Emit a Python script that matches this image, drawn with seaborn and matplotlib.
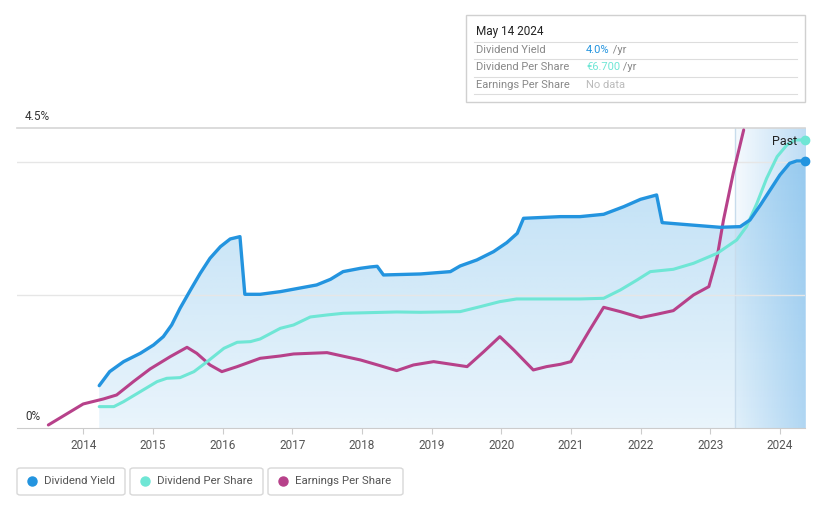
import numpy as np
import pandas as pd
import seaborn as sns
import matplotlib
import matplotlib.pyplot as plt
from matplotlib.patches import Polygon, FancyBboxPatch

matplotlib.use('Agg')

# dividend yield (%)
yield_years = [2014.23, 2014.38, 2014.58, 2014.82, 2015.01, 2015.15, 2015.27, 2015.39, 2015.54,
               2015.68, 2015.82, 2015.97, 2016.11, 2016.25, 2016.32, 2016.54, 2016.83, 2017.35,
               2017.55, 2017.73, 2017.98, 2018.12, 2018.22, 2018.31, 2018.84, 2019.27, 2019.41,
               2019.65, 2019.89, 2020.08, 2020.23, 2020.32, 2020.85, 2021.13, 2021.47, 2021.76,
               2022.0, 2022.23, 2022.31, 2022.72, 2023.14, 2023.43, 2023.57, 2023.72, 2023.86,
               2024.0, 2024.14, 2024.24, 2024.36]
yield_vals = [0.64, 0.85, 1.0, 1.125, 1.25, 1.375, 1.55, 1.80, 2.075,
              2.325, 2.55, 2.725, 2.84, 2.875, 2.01, 2.01, 2.05, 2.15,
              2.235, 2.35, 2.40, 2.42, 2.43, 2.30, 2.315, 2.35, 2.435,
              2.525, 2.65, 2.785, 2.925, 3.15, 3.175, 3.175, 3.21, 3.325,
              3.435, 3.50, 3.085, 3.05, 3.015, 3.025, 3.125, 3.35, 3.575,
              3.80, 3.975, 4.01, 4.01]

# dividend per share (scaled to chart)
dps_years = [2014.23, 2014.44, 2014.58, 2014.82, 2015.06, 2015.2, 2015.39, 2015.59, 2015.78,
             2016.02, 2016.21, 2016.4, 2016.54, 2016.83, 2017.02, 2017.26, 2017.5, 2017.73,
             2018.5, 2018.84, 2019.41, 2019.7, 2019.98, 2020.22, 2020.85, 2021.13, 2021.47,
             2021.71, 2021.95, 2022.14, 2022.47, 2022.76, 2023.1, 2023.38, 2023.52, 2023.67,
             2023.81, 2023.96, 2024.1, 2024.22, 2024.36]
dps_vals = [0.325, 0.325, 0.40, 0.55, 0.70, 0.75, 0.76, 0.85, 1.0,
            1.2, 1.29, 1.30, 1.34, 1.50, 1.55, 1.67, 1.70, 1.725,
            1.745, 1.74, 1.75, 1.825, 1.90, 1.94, 1.94, 1.94, 1.95,
            2.075, 2.225, 2.35, 2.385, 2.475, 2.625, 2.825, 3.025, 3.375,
            3.75, 4.075, 4.25, 4.325, 4.325]

# earnings per share (scaled to chart)
eps_years = [2013.5, 2014.0, 2014.29, 2014.48, 2014.72, 2014.96, 2015.25, 2015.49, 2015.63,
             2015.82, 2015.99, 2016.21, 2016.54, 2016.83, 2017.02, 2017.5, 2017.98, 2018.26,
             2018.5, 2018.74, 2019.03, 2019.51, 2019.75, 2019.98, 2020.18, 2020.46, 2020.65,
             2020.85, 2021.0, 2021.27, 2021.47, 2021.71, 2022.0, 2022.23, 2022.47, 2022.76,
             2022.98, 2023.1, 2023.19, 2023.33, 2023.48]
eps_vals = [0.05, 0.365, 0.44, 0.50, 0.70, 0.89, 1.075, 1.215, 1.125,
            0.95, 0.85, 0.925, 1.05, 1.085, 1.115, 1.135, 1.025, 0.94,
            0.865, 0.95, 1.0, 0.925, 1.15, 1.375, 1.175, 0.875, 0.925,
            0.96, 1.0, 1.475, 1.815, 1.75, 1.66, 1.71, 1.765, 2.0,
            2.125, 2.575, 3.125, 3.825, 4.475]

year_ticks = list(range(2014, 2025))
past_start = 2023.35

blue = '#2394df'
teal = '#6fe6d5'
magenta = '#b7418a'

W, H = 821, 508
fig = plt.figure(figsize=(W / 100, H / 100), dpi=100)
plt.rcParams['font.family'] = ['Roboto', 'DejaVu Sans']


def px(x, y):
    return x / W, 1 - y / H


ax = fig.add_axes([17 / W, (H - 428.3) / H, (805 - 17) / W, (428.3 - 128.3) / H])
x0, x1 = 2013.05, 2024.36
ax.set_xlim(x0, x1)
ax.set_ylim(0, 4.5)

# gradient fill under dividend yield
poly_pts = [(yield_years[0], 0)] + list(zip(yield_years, yield_vals)) + [(yield_years[-1], 0)]
clip = Polygon(poly_pts, closed=True, facecolor='none', edgecolor='none', transform=ax.transData)
ax.add_patch(clip)
grad = np.zeros((100, 2, 4))
grad[..., :3] = matplotlib.colors.to_rgb(blue)
grad[..., 3] = np.linspace(0.10, 0.30, 100)[:, None]
im = ax.imshow(grad, extent=[yield_years[0], yield_years[-1], 0, 4.2], origin='lower',
               aspect='auto', zorder=1, interpolation='bilinear')
im.set_clip_path(clip)

# past region
pg = np.zeros((2, 100, 4))
pg[..., :3] = matplotlib.colors.to_rgb('#5aa9e6')
pg[..., 3] = np.linspace(0.06, 0.40, 100)[None, :]
ax.imshow(pg, extent=[past_start, x1, 0, 4.5], origin='lower', aspect='auto', zorder=1.5,
          interpolation='bilinear')
ax.axvline(past_start, color='#c8dcec', lw=1, zorder=1.6)

# grid
for g in [2, 4]:
    ax.axhline(g, color='#e6e6e6', lw=1, zorder=1.7)
ax.axhline(4.5, color='#d5d5d5', lw=1.2, zorder=1.7, clip_on=False)

df_y = pd.DataFrame({'year': yield_years, 'val': yield_vals})
df_d = pd.DataFrame({'year': dps_years, 'val': dps_vals})
df_e = pd.DataFrame({'year': eps_years, 'val': eps_vals})
kw = dict(solid_joinstyle='round', solid_capstyle='round')
sns.lineplot(data=df_e, x='year', y='val', color=magenta, lw=2.2, ax=ax, zorder=3, **kw)
sns.lineplot(data=df_d, x='year', y='val', color=teal, lw=2.2, ax=ax, zorder=3, **kw)
sns.lineplot(data=df_y, x='year', y='val', color=blue, lw=2.4, ax=ax, zorder=4, **kw)

ax.plot([x1], [dps_vals[-1]], 'o', color=teal, ms=6, clip_on=False, zorder=5)
ax.plot([x1], [yield_vals[-1]], 'o', color=blue, ms=6, clip_on=False, zorder=5)
ax.text(2024.25, 4.3, 'Past', ha='right', va='center', fontsize=9, color='#222', zorder=6)

for s in ['top', 'right', 'left']:
    ax.spines[s].set_visible(False)
ax.spines['bottom'].set_color('#cccccc')
ax.set_xticks(year_ticks)
ax.set_xticklabels([str(y) for y in year_ticks])
ax.set_yticks([])
ax.tick_params(axis='x', length=4, color='#cccccc', labelcolor='#555555', labelsize=8.5, pad=4)
ax.set_xlabel('')
ax.set_ylabel('')
ax.patch.set_alpha(0)

fig.text(*px(25, 116), '4.5%', fontsize=8.5, color='#333', va='center')
fig.text(*px(25, 416), '0%', fontsize=8.5, color='#333', va='center')

# tooltip box
bx = FancyBboxPatch(px(466, 102), (805 - 466) / W, (102 - 15) / H, boxstyle='square,pad=0',
                    transform=fig.transFigure, facecolor='white', edgecolor='#d0d0d0', lw=1)
fig.add_artist(bx)
fig.text(*px(476, 32), 'May 14 2024', fontsize=8.5, color='#222', va='center')
rows = [('Dividend Yield', '4.0%', blue, ' /yr'),
        ('Dividend Per Share', '€6.700', teal, ' /yr'),
        ('Earnings Per Share', 'No data', '#bbbbbb', '')]
for i, (lab, val, c, suf) in enumerate(rows):
    yy = 50 + i * 17.5
    fig.add_artist(plt.Line2D([474 / W, 797 / W], [1 - (yy - 8.5) / H] * 2, color='#dddddd', lw=0.8))
    fig.text(*px(476, yy), lab, fontsize=8, color='#888888', va='center')
    t = fig.text(*px(586, yy), val, fontsize=8, color=c, va='center')
    if suf:
        fig.canvas.draw()
        bb = t.get_window_extent()
        fig.text(bb.x1 / W, 1 - yy / H, suf, fontsize=8, color='#888888', va='center')
fig.add_artist(plt.Line2D([474 / W, 797 / W], [1 - 94 / H] * 2, color='#dddddd', lw=0.8))

# legend
legend = [('Dividend Yield', blue, 17, 125), ('Dividend Per Share', teal, 130, 263),
          ('Earnings Per Share', magenta, 268, 403)]
for lab, c, lx0, lx1 in legend:
    b = FancyBboxPatch(px(lx0, 495), (lx1 - lx0) / W, 27 / H, boxstyle='round,pad=0,rounding_size=0.004',
                       transform=fig.transFigure, facecolor='white', edgecolor='#d8d8d8', lw=1)
    fig.add_artist(b)
    fig.add_artist(plt.Line2D([(lx0 + 15) / W], [1 - 481 / H], marker='o', color=c, ms=6.5))
    fig.text(*px(lx0 + 27, 481), lab, fontsize=8.2, color='#555555', va='center')

fig.savefig('out.png', dpi=100)
